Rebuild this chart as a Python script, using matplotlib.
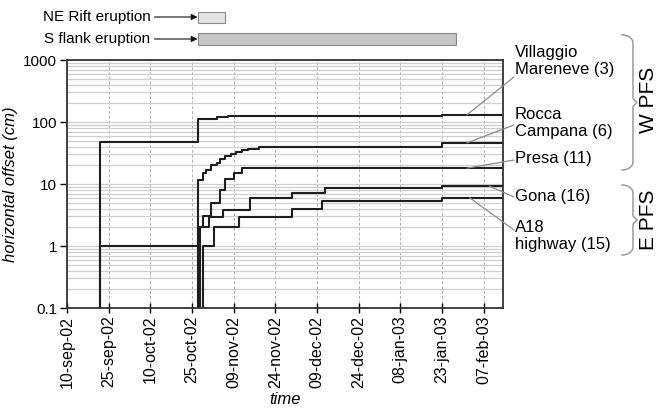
import numpy as np
import pandas as pd
import matplotlib
matplotlib.use('Agg')
import matplotlib.pyplot as plt
import matplotlib.dates as mdates
from matplotlib.ticker import LogLocator, NullFormatter, FixedLocator

plt.rcParams['font.family'] = ['Liberation Sans', 'DejaVu Sans']

# --- data ---
villaggio_dates = ['2002-09-22', '2002-09-22', '2002-10-27', '2002-11-03', '2002-11-07', '2003-01-23', '2003-02-14']
villaggio_vals = [0.1, 48, 112, 120, 125, 130, 130]

rocca_dates = ['2002-09-22', '2002-09-22', '2002-10-27', '2002-10-29', '2002-10-30', '2002-11-01',
               '2002-11-03', '2002-11-04', '2002-11-06', '2002-11-08', '2002-11-10', '2002-11-12',
               '2002-11-14', '2002-11-18', '2003-01-23', '2003-02-14']
rocca_vals = [0.1, 1, 11.7, 15, 17, 20, 22, 25, 28, 31, 33, 35, 37, 40, 46, 46]

presa_dates = ['2002-10-27', '2002-10-27', '2002-10-29', '2002-11-01', '2002-11-04', '2002-11-06',
               '2002-11-09', '2002-11-12', '2003-02-14']
presa_vals = [0.1, 2, 3, 5, 8, 12, 15, 18, 18]

gona_dates = ['2002-10-28', '2002-10-28', '2002-10-31', '2002-11-05', '2002-11-15', '2002-11-30',
              '2002-12-12', '2003-01-23', '2003-02-14']
gona_vals = [0.1, 2, 2.9, 3.8, 5.9, 7.1, 8.5, 9.3, 9.3]

a18_dates = ['2002-10-29', '2002-10-29', '2002-11-02', '2002-11-11', '2002-11-30', '2002-12-11',
             '2003-01-23', '2003-02-14']
a18_vals = [0.1, 1, 2, 2.9, 3.9, 5.3, 6, 6]

series_names = ['Villaggio\nMareneve (3)', 'Rocca\nCampana (6)', 'Presa (11)', 'Gona (16)', 'A18\nhighway (15)']

eruptions = ['NE Rift eruption', 'S flank eruption']
eruption_start = ['2002-10-27', '2002-10-27']
eruption_end = ['2002-11-06', '2003-01-28']

tick_dates = ['2002-09-10', '2002-09-25', '2002-10-10', '2002-10-25', '2002-11-09', '2002-11-24',
              '2002-12-09', '2002-12-24', '2003-01-08', '2003-01-23', '2003-02-07']
tick_labels = ['10-sep-02', '25-sep-02', '10-oct-02', '25-oct-02', '09-nov-02', '24-nov-02',
               '09-dec-02', '24-dec-02', '08-jan-03', '23-jan-03', '07-feb-03']

W, H = 663, 409
fig = plt.figure(figsize=(W / 100, H / 100), dpi=100)
ax = fig.add_axes([67 / W, 1 - 308 / H, 436 / W, 248 / H])

line_kw = dict(color='#1e1e1e', lw=1.5, drawstyle='steps-post')
all_series = [(villaggio_dates, villaggio_vals), (rocca_dates, rocca_vals), (presa_dates, presa_vals),
              (gona_dates, gona_vals), (a18_dates, a18_vals)]
for d, v in all_series:
    ax.plot(pd.to_datetime(d), v, **line_kw)

ax.set_yscale('log')
ax.set_ylim(0.1, 1000)
ax.set_xlim(pd.Timestamp('2002-09-10'), pd.Timestamp('2003-02-14'))
ax.yaxis.set_major_locator(FixedLocator([0.1, 1, 10, 100, 1000]))
ax.set_yticklabels(['0.1', '1', '10', '100', '1000'])
ax.yaxis.set_minor_locator(LogLocator(base=10, subs=np.arange(2, 10)))
ax.yaxis.set_minor_formatter(NullFormatter())
ax.xaxis.set_major_locator(FixedLocator(mdates.date2num(pd.to_datetime(tick_dates))))
ax.set_xticklabels(tick_labels, rotation=90)

ax.grid(True, which='both', axis='y', color='#cfcfcf', lw=0.9, ls='-')
ax.grid(True, which='major', axis='x', color='#b0b0b0', lw=0.7, ls=(0, (3, 2)))
ax.set_axisbelow(True)
ax.tick_params(axis='x', direction='inout', length=7, width=1, labelsize=11.5, pad=2)
ax.tick_params(axis='y', which='major', direction='out', length=5, width=1, labelsize=11, pad=2)
ax.tick_params(axis='y', which='minor', length=0)
for s in ax.spines.values():
    s.set_color('#333333')
    s.set_linewidth(1.3)

ax.set_ylabel('horizontal offset (cm)', fontsize=12, style='italic', labelpad=4)
ax.set_xlabel('time', fontsize=12, style='italic', labelpad=3)

# eruption bars on top
axt = fig.add_axes([67 / W, 1 - 50 / H, 436 / W, 45 / H], sharex=ax)
axt.set_ylim(45, 0)
axt.axis('off')
bar_y = [12, 34]
bar_h = [11, 12]
bar_col = ['#e3e3e3', '#c6c6c6']
for i, name in enumerate(eruptions):
    s = mdates.date2num(pd.Timestamp(eruption_start[i]))
    e = mdates.date2num(pd.Timestamp(eruption_end[i]))
    axt.barh(bar_y[i], e - s, left=s, height=bar_h[i], color=bar_col[i], edgecolor='#8a8a8a', lw=0.8)
    axt.annotate(name, xy=(s, bar_y[i]), xytext=(mdates.date2num(pd.Timestamp('2002-10-10')), bar_y[i]),
                 ha='right', va='center', fontsize=11,
                 arrowprops=dict(arrowstyle='-|>', color='#111111', lw=0.8, shrinkA=1, shrinkB=0,
                                 mutation_scale=9))

# labels with leader lines
anchor_dates = ['2003-02-01', '2003-02-01', '2003-02-01', '2003-02-09', '2003-02-02']
anchor_vals = [130, 46, 18, 9.3, 6]
leader_end_px = [77, 125, 160, 197, 230]
label_y_px = [61, 123, 159, 196, 236]
for i, name in enumerate(series_names):
    ax.annotate('', xy=(pd.Timestamp(anchor_dates[i]), anchor_vals[i]),
                xytext=(514 / W, 1 - leader_end_px[i] / H), textcoords='figure fraction',
                arrowprops=dict(arrowstyle='-', color='#8c8c8c', lw=0.9, shrinkA=0, shrinkB=0),
                annotation_clip=False)
    fig.text(515 / W, 1 - label_y_px[i] / H, name, ha='left', va='center', fontsize=12,
             linespacing=1.2)


# curly braces in figure pixels
def brace(y0, y1, x0=622, w=15):
    ym = (y0 + y1) / 2
    t = np.linspace(0, 1, 30)
    r = 8
    xs, ys = [], []
    xs += list(x0 + (w - 4) * np.sin(t * np.pi / 2)); ys += list(y0 + r * (1 - np.cos(t * np.pi / 2)))
    xs += [x0 + w - 4, x0 + w - 4]; ys += [y0 + r, ym - 4]
    xs += [x0 + w]; ys += [ym]
    xs += [x0 + w - 4, x0 + w - 4]; ys += [ym + 4, y1 - r]
    xs += list(x0 + (w - 4) * np.cos(t * np.pi / 2)); ys += list(y1 - r + r * np.sin(t * np.pi / 2))
    xs = np.array(xs) / W
    ys = 1 - np.array(ys) / H
    fig.add_artist(plt.Line2D(xs, ys, color='#9a9a9a', lw=1.1, transform=fig.transFigure))


brace(35, 170)
brace(185, 255)
fig.text(648 / W, 1 - 100 / H, 'W PFS', rotation=90, ha='center', va='center', fontsize=15)
fig.text(648 / W, 1 - 220 / H, 'E PFS', rotation=90, ha='center', va='center', fontsize=15)

fig.savefig('out.png', dpi=100)
